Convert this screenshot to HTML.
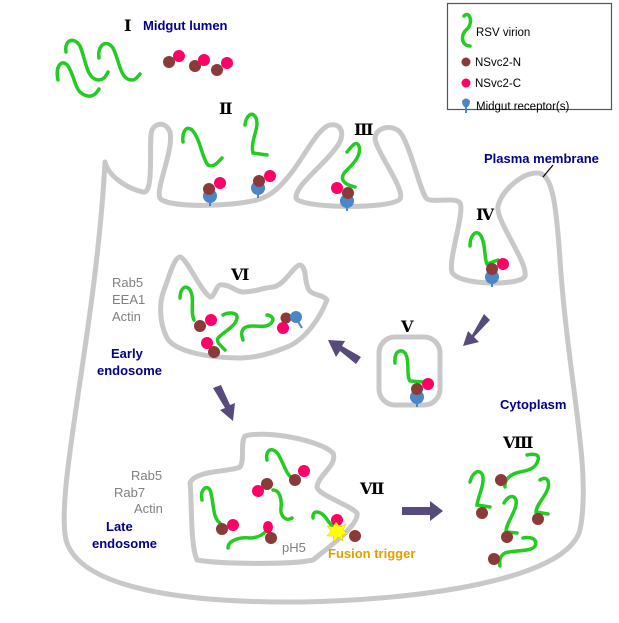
<!DOCTYPE html>
<html><head><meta charset="utf-8"><style>
body{margin:0;background:#fff;}
svg{display:block;}
text{font-family:"Liberation Sans",sans-serif;}
.n{fill:#00008b;font-weight:bold;font-size:13px;}
.g{fill:#808080;font-size:13px;}
.r{font-family:"DejaVu Serif","Liberation Serif",serif;font-size:16px;fill:#000;font-weight:bold;}
.m{fill:none;stroke:#c8c8c8;stroke-width:5;stroke-linejoin:round;}
.v{fill:none;stroke:#22cc22;stroke-width:3.5;stroke-linecap:round;}
</style></head><body>
<svg width="619" height="623" viewBox="0 0 619 623" xmlns="http://www.w3.org/2000/svg">
<defs>
<g id="rec"><line x1="0" y1="0" x2="0" y2="10" stroke="#4a86c8" stroke-width="2"/><circle cx="0" cy="0" r="7" fill="#4a86c8"/></g>
</defs>
<!-- cell -->
<path class="m" d="M105,162 C108,175 125,188 143,192 C155,195 148,140 152,130 C156,122 166,122 170,132 C174,150 155,190 160,198 C166,208 230,207 257,200 C272,196 282,185 292,172 C305,155 318,128 330,125 C342,123 345,135 338,145 C325,165 295,185 296,198 C298,208 390,210 400,199 C406,190 375,150 375,138 C376,127 392,124 400,132 C410,145 420,190 426,198 C432,204 455,196 460,203 C465,212 448,260 452,272 C458,286 522,286 525,276 C528,262 495,220 498,206 C502,190 522,173 537,173 C552,173 556,200 560,260 C568,380 592,470 580,530 C566,580 420,600 300,602 C190,603 80,590 66,540 C55,490 96,330 105,162 Z"/>
<line x1="553" y1="165" x2="543" y2="177" stroke="#000" stroke-width="1.2"/>
<!-- early endosome -->
<path class="m" d="M180,257 C186,257 200,290 210,297 C214,298 216,286 220,285 C230,284 236,292 243,292 C255,292 262,288 273,287 C285,285 294,265 300,265 C306,266 305,280 307,285 C309,297 322,293 327,300 C320,318 305,340 287,347 C270,354 255,358 240,358 C210,358 175,352 167,338 C158,320 160,300 164,290 C168,280 174,257 180,257 Z"/>
<!-- vesicle V -->
<rect class="m" x="379" y="337" width="61" height="68" rx="16"/>
<!-- late endosome -->
<path class="m" d="M245,436 C265,430 320,440 333,453 C338,465 318,475 317,487 C318,495 350,505 357,513 C360,525 325,550 313,560 C290,565 220,564 197,560 C190,545 192,495 190,483 C195,470 230,472 240,467 C245,460 240,442 245,436 Z"/>
<!-- arrows -->
<g fill="#574a7c">
<polygon points="484,314 490,320 474,337 479,342 463,346 468,331 472,335"/>
<polygon points="361,357 356,364 340,351 336,357 328,340 345,341 342,346"/>
<polygon points="213,388 221,385 230,405 235,403 233,421 220,410 225,408"/>
<polygon points="402,507 430,507 430,501 443,511 430,521 430,515 402,515"/>
</g>
<!-- legend -->
<rect x="447.5" y="3.5" width="164" height="106" fill="#fff" stroke="#555" stroke-width="1.2"/>
<path class="v" d="M464,16 C470,10 474,24 466,30 C460,36 462,46 470,46"/>
<text x="476" y="36" font-size="11.5">RSV virion</text>
<circle cx="466" cy="62" r="4.5" fill="#8b3a3a"/><text x="475" y="66" font-size="11.5">NSvc2-N</text>
<circle cx="466" cy="83" r="4.5" fill="#ff0066"/><text x="475" y="87" font-size="11.5">NSvc2-C</text>
<path d="M462,101 Q466,96 470,101 Q470,106 466,108 Q462,106 462,101Z" fill="#4a86c8"/><line x1="466" y1="104" x2="466" y2="113" stroke="#4a86c8" stroke-width="2"/>
<text x="476" y="110" font-size="11.5">Midgut receptor(s)</text>
<!-- labels -->
<text class="r" x="124" y="31">Ⅰ</text><text class="n" x="143" y="30">Midgut lumen</text>
<text class="r" x="219" y="114">Ⅱ</text>
<text class="r" x="354" y="135">Ⅲ</text>
<text class="r" x="476" y="220">Ⅳ</text>
<text class="r" x="401" y="332">Ⅴ</text>
<text class="r" x="231" y="280">Ⅵ</text>
<text class="r" x="360" y="494">Ⅶ</text>
<text class="r" x="503" y="448">Ⅷ</text>
<text class="n" x="484" y="163" font-size="12">Plasma membrane</text>
<text class="g" x="112" y="287">Rab5</text><text class="g" x="112" y="304">EEA1</text><text class="g" x="112" y="321">Actin</text>
<text class="n" x="111" y="358">Early</text><text class="n" x="97" y="375">endosome</text>
<text class="g" x="131" y="480">Rab5</text><text class="g" x="114" y="497">Rab7</text><text class="g" x="134" y="513">Actin</text>
<text class="n" x="106" y="531">Late</text><text class="n" x="92" y="548">endosome</text>
<text class="g" x="282" y="552">pH5</text>
<text x="328" y="558" font-weight="bold" font-size="13" fill="#e0a000">Fusion trigger</text>
<text class="n" x="500" y="409" font-size="12">Cytoplasm</text>
<!-- virions lumen -->
<path class="v" d="M58,80 C55,66 62,58 68,66 C76,78 74,94 88,96 C94,97 97,92 99,89"/>
<path class="v" d="M66,52 C64,40 74,36 80,46 C86,60 86,78 98,80 C104,80 106,76 108,72"/>
<path class="v" d="M99,58 C97,46 106,38 113,48 C120,62 120,80 132,80 C136,80 138,76 140,74"/>
<g>
<circle cx="169" cy="62" r="6" fill="#8b3a3a"/><circle cx="179" cy="56" r="6" fill="#ff0066"/>
<circle cx="195" cy="66" r="6" fill="#8b3a3a"/><circle cx="204" cy="60" r="6" fill="#ff0066"/>
<circle cx="217" cy="70" r="6" fill="#8b3a3a"/><circle cx="227" cy="63" r="6" fill="#ff0066"/>
</g>
<!-- II -->
<path class="v" d="M183,142 C182,132 186,125 192,130 C200,138 202,158 208,165 C214,168 218,162 222,158"/>
<path class="v" d="M245,125 C246,116 252,110 256,118 C260,128 250,140 253,153 L267,155"/>
<use href="#rec" x="210" y="196"/><circle cx="209" cy="189" r="6" fill="#8b3a3a"/><circle cx="220" cy="183" r="6" fill="#ff0066"/>
<use href="#rec" x="258" y="188"/><circle cx="259" cy="181" r="6" fill="#8b3a3a"/><circle cx="270" cy="176" r="6" fill="#ff0066"/>
<!-- III -->
<path class="v" d="M347,152 C352,146 356,140 359,146 C362,156 352,165 345,172 C340,178 342,184 355,187"/>
<use href="#rec" x="347" y="201"/><circle cx="337" cy="188" r="6" fill="#ff0066"/><circle cx="348" cy="193" r="6" fill="#8b3a3a"/>
<!-- IV -->
<path class="v" d="M470,246 C470,236 476,228 481,236 C486,245 484,258 487,264 L498,260"/>
<use href="#rec" x="492" y="277"/><circle cx="492" cy="269" r="6" fill="#8b3a3a"/><circle cx="503" cy="264" r="6" fill="#ff0066"/>
<!-- V -->
<path class="v" d="M395,363 C394,352 400,348 405,353 C410,360 406,376 410,381 L423,382"/>
<use href="#rec" x="417" y="397"/><circle cx="417" cy="389" r="6" fill="#8b3a3a"/><circle cx="428" cy="384" r="6" fill="#ff0066"/>
<!-- VI contents -->
<path class="v" d="M180,298 C180,288 186,284 190,290 C195,298 190,312 194,320"/>
<path class="v" d="M225,350 C220,345 216,342 218,338 C226,330 236,326 237,318 C238,312 228,312 223,315"/>
<path class="v" d="M243,340 C240,332 242,326 252,326 C260,326 268,328 272,322 C275,318 270,315 267,315"/>
<circle cx="200" cy="326" r="6" fill="#8b3a3a"/><circle cx="211" cy="320" r="6" fill="#ff0066"/>
<circle cx="207" cy="343" r="6" fill="#ff0066"/><circle cx="214" cy="352" r="6" fill="#8b3a3a"/>
<circle cx="283" cy="328" r="6" fill="#ff0066"/><circle cx="286" cy="318" r="5.5" fill="#8b3a3a"/>
<circle cx="296" cy="317" r="6" fill="#4a86c8"/><line x1="297" y1="320" x2="302" y2="328" stroke="#4a86c8" stroke-width="2"/>
<!-- late contents -->
<path class="v" d="M202,500 C200,490 206,484 210,490 C214,500 212,518 220,523"/>
<path class="v" d="M267,460 C265,450 272,446 278,454 C284,464 286,474 292,478"/>
<path class="v" d="M273,490 C280,490 282,500 281,508 C280,516 286,522 292,518"/>
<path class="v" d="M228,548 C228,540 240,537 250,538 C258,538 264,534 267,530"/>
<path class="v" d="M313,518 C312,510 320,510 326,518 C330,524 334,530 340,528"/>
<circle cx="295" cy="480" r="6" fill="#8b3a3a"/><circle cx="304" cy="471" r="6" fill="#ff0066"/>
<circle cx="267" cy="484" r="6" fill="#8b3a3a"/><circle cx="258" cy="491" r="6" fill="#ff0066"/>
<circle cx="222" cy="529" r="6" fill="#8b3a3a"/><circle cx="233" cy="525" r="6" fill="#ff0066"/>
<ellipse cx="268" cy="527" rx="5" ry="6" fill="#ff0066"/><circle cx="271" cy="538" r="6" fill="#8b3a3a"/>
<circle cx="337" cy="520" r="6" fill="#ff0066"/><circle cx="355" cy="536" r="6" fill="#8b3a3a"/>
<polygon points="336,522 340,527 346,524 343,530 348,534 342,535 343,541 338,537 334,542 333,536 327,536 331,531 327,526 333,527" fill="#ffff00" stroke="#e0c000" stroke-width="0.5"/>
<!-- VIII -->
<path class="v" d="M470,482 C472,474 478,468 482,474 C486,482 478,496 477,505 L490,507"/>
<path class="v" d="M505,487 C504,480 510,474 520,472 C530,470 536,468 538,460 C540,455 535,453 527,455"/>
<path class="v" d="M540,480 C546,476 550,480 548,488 C546,496 536,505 536,512 L548,514"/>
<path class="v" d="M504,503 C508,496 514,494 516,500 C518,510 506,522 506,532 L517,533"/>
<path class="v" d="M523,538 C532,536 538,540 535,546 C532,552 512,550 505,553 C500,556 499,560 500,566"/>
<circle cx="482" cy="513" r="6" fill="#8b3a3a"/>
<circle cx="501" cy="480" r="6" fill="#8b3a3a"/>
<circle cx="538" cy="519" r="6" fill="#8b3a3a"/>
<circle cx="507" cy="537" r="6" fill="#8b3a3a"/>
<circle cx="494" cy="559" r="6" fill="#8b3a3a"/>
</svg>
</body></html>
